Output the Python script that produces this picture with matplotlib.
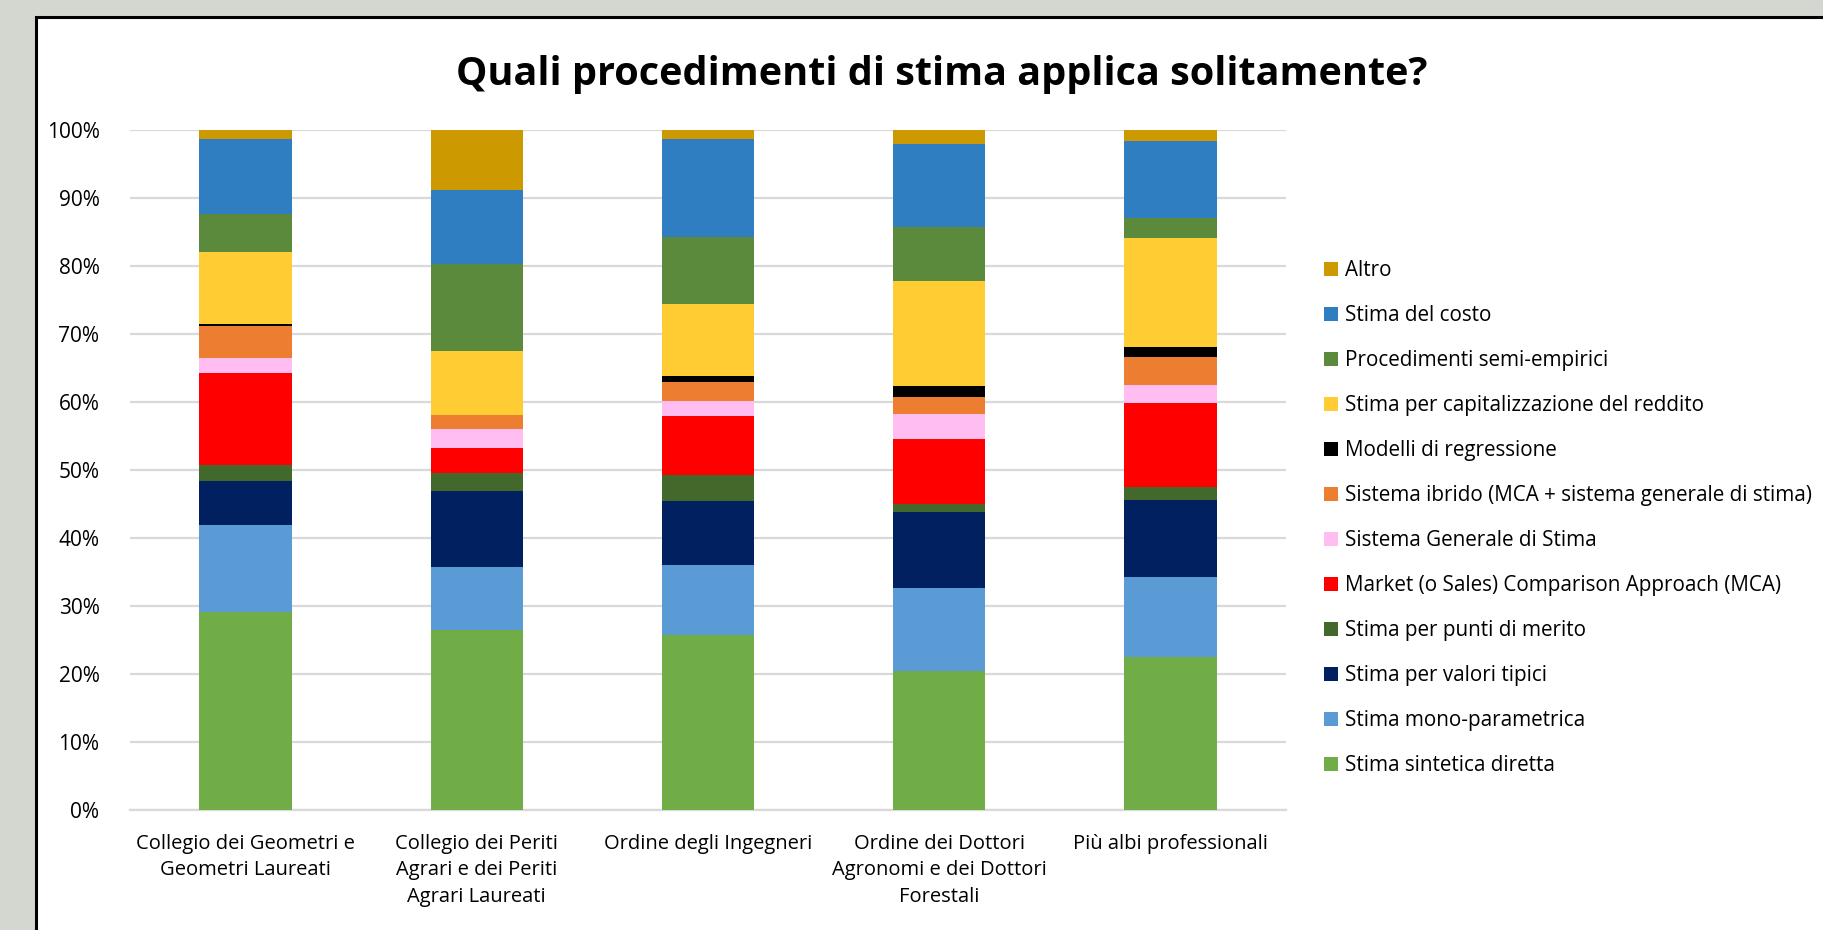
import matplotlib
matplotlib.use("Agg")
import matplotlib.pyplot as plt
from matplotlib.patches import Rectangle, Patch
import numpy as np

plt.rcParams['font.family'] = ['Open Sans', 'DejaVu Sans']

title = "Quali procedimenti di stima applica solitamente?"

categories = [
    "Collegio dei Geometri e\nGeometri Laureati",
    "Collegio dei Periti\nAgrari e dei Periti\nAgrari Laureati",
    "Ordine degli Ingegneri",
    "Ordine dei Dottori\nAgronomi e dei Dottori\nForestali",
    "Più albi professionali",
]

# series from bottom to top (percent)
stima_sintetica_diretta = [29.1, 26.4, 25.7, 20.5, 22.5]
stima_mono_parametrica = [12.8, 9.3, 10.4, 12.1, 11.8]
stima_valori_tipici = [6.5, 11.2, 9.4, 11.2, 11.3]
stima_punti_merito = [2.4, 2.7, 3.7, 1.2, 1.9]
mca = [13.4, 3.6, 8.7, 9.6, 12.4]
sistema_generale = [2.2, 2.8, 2.3, 3.7, 2.6]
sistema_ibrido = [4.8, 2.1, 2.7, 2.5, 4.1]
modelli_regressione = [0.3, 0.0, 0.9, 1.5, 1.5]
capitalizzazione_reddito = [10.5, 9.4, 10.6, 15.5, 16.0]
semi_empirici = [5.6, 12.8, 9.8, 7.9, 3.0]
stima_costo = [11.05, 10.9, 14.45, 12.3, 11.3]
altro = [1.35, 8.8, 1.35, 2.0, 1.6]

series_names = [
    "Stima sintetica diretta",
    "Stima mono-parametrica",
    "Stima per valori tipici",
    "Stima per punti di merito",
    "Market (o Sales) Comparison Approach (MCA)",
    "Sistema Generale di Stima",
    "Sistema ibrido (MCA + sistema generale di stima)",
    "Modelli di regressione",
    "Stima per capitalizzazione del reddito",
    "Procedimenti semi-empirici",
    "Stima del costo",
    "Altro",
]
series_values = [
    stima_sintetica_diretta, stima_mono_parametrica, stima_valori_tipici,
    stima_punti_merito, mca, sistema_generale, sistema_ibrido,
    modelli_regressione, capitalizzazione_reddito, semi_empirici,
    stima_costo, altro,
]
colors = [
    "#70AD47", "#5B9BD5", "#002060", "#43682B", "#FF0000", "#FFBDF2",
    "#ED7D31", "#000000", "#FFCC33", "#5B8A3C", "#2F7EC1", "#CC9A00",
]

fig = plt.figure(figsize=(18.24, 9.30), dpi=100, facecolor="#D4D7D0")

# white chart panel with black border
panel = Rectangle((36 / 1824, -0.05), 1.2, 1 - 17 / 930 + 0.05,
                  transform=fig.transFigure, facecolor="white",
                  edgecolor="black", linewidth=2.2, zorder=-5)
fig.patches.append(panel)

ax = fig.add_axes([130 / 1824, 1 - 810 / 930, (1286 - 130) / 1824, (810 - 130) / 930])
ax.set_facecolor("none")
ax.set_zorder(2)

x = np.arange(len(categories))
bottom = np.zeros(len(categories))
handles = []
for name, vals, c in zip(series_names, series_values, colors):
    v = np.array(vals, dtype=float)
    ax.bar(x, v, width=0.4, bottom=bottom, color=c, edgecolor="none",
           label=name, zorder=3)
    bottom += v
    handles.append(Patch(facecolor=c, edgecolor="none", label=name))

ax.set_xlim(-0.5, len(categories) - 0.5)
ax.set_ylim(0, 100)
ax.set_yticks(np.arange(0, 101, 10))
ax.set_yticklabels([f"{t}%" for t in range(0, 101, 10)], fontsize=15, color="#000000")
ax.set_xticks(x)
ax.set_xticklabels(categories, fontsize=14.5, linespacing=1.45)
ax.tick_params(axis="both", length=0)
ax.tick_params(axis="y", pad=22)
ax.tick_params(axis="x", pad=17)
ax.yaxis.grid(True, color="#D9D9D9", linewidth=1.6, zorder=0)
ax.set_axisbelow(True)
for s in ["top", "right", "left"]:
    ax.spines[s].set_visible(False)
ax.spines["bottom"].set_color("#D9D9D9")
ax.spines["bottom"].set_linewidth(1.6)
ax.spines["bottom"].set_zorder(1)

fig.text(942 / 1824, 1 - 74 / 930, title, ha="center", va="center",
         fontsize=28.5, fontweight="bold")

leg = fig.legend(handles=handles[::-1], loc="upper left",
                 bbox_to_anchor=(1324 / 1824, 1 - 260 / 930),
                 frameon=False, fontsize=14.9, handlelength=0.7,
                 handleheight=0.7, handletextpad=0.3, labelspacing=1.16,
                 borderaxespad=0, borderpad=0)

fig.savefig("out.png", dpi=100, facecolor=fig.get_facecolor())
